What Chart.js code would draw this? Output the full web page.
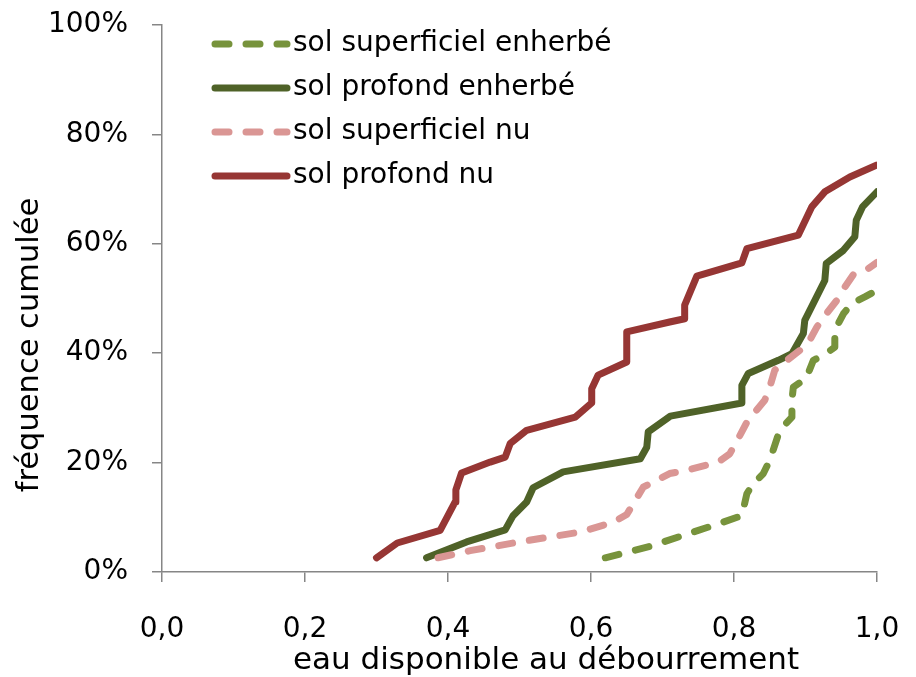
<!DOCTYPE html>
<html><head><meta charset="utf-8">
<script src="https://cdn.jsdelivr.net/npm/chart.js@4"></script>
<style>html,body{margin:0;padding:0;background:#fff}</style>
</head><body>
<canvas id="c" width="916" height="677"></canvas>
<script>
const seriesLabels = ['sol superficiel enherbé', 'sol profond enherbé', 'sol superficiel nu', 'sol profond nu'];

const xSupEnh = [0.620, 0.683, 0.729, 0.771, 0.811, 0.818, 0.825, 0.841, 0.850, 0.864, 0.881, 0.881, 0.883, 0.901, 0.911, 0.925, 0.941, 0.941, 0.953, 0.965, 0.983, 1.000];
const ySupEnh = [2.6, 4.7, 6.7, 8.5, 10.3, 14.3, 15.8, 18.0, 20.4, 25.9, 28.3, 31.4, 33.8, 35.4, 38.7, 39.6, 41.1, 44.2, 47.2, 49.1, 50.3, 51.5];

const xProfEnh = [0.370, 0.426, 0.480, 0.491, 0.510, 0.519, 0.561, 0.669, 0.678, 0.680, 0.711, 0.811, 0.811, 0.820, 0.862, 0.881, 0.897, 0.899, 0.927, 0.929, 0.953, 0.969, 0.971, 0.980, 1.000];
const yProfEnh = [2.6, 5.5, 7.7, 10.3, 12.8, 15.4, 18.3, 20.7, 22.8, 25.6, 28.5, 30.9, 34.1, 36.3, 38.7, 39.9, 43.6, 46.0, 53.3, 56.4, 58.8, 61.3, 64.3, 66.8, 69.5];

const xSupNu = [0.386, 0.431, 0.500, 0.547, 0.585, 0.631, 0.650, 0.673, 0.710, 0.734, 0.778, 0.794, 0.806, 0.818, 0.829, 0.843, 0.850, 0.857, 0.874, 0.892, 0.906, 0.916, 0.929, 0.944, 0.955, 0.967, 0.988, 1.000];
const ySupNu = [2.6, 3.9, 5.5, 6.5, 7.3, 9.1, 10.5, 15.5, 18.0, 18.6, 20.1, 21.6, 24.4, 27.4, 29.2, 31.4, 33.8, 36.9, 38.7, 40.5, 42.4, 44.8, 47.2, 49.7, 52.1, 54.4, 55.5, 56.6];

const xProfNu = [0.300, 0.329, 0.389, 0.410, 0.411, 0.419, 0.459, 0.480, 0.487, 0.510, 0.578, 0.601, 0.601, 0.610, 0.650, 0.650, 0.710, 0.731, 0.731, 0.748, 0.811, 0.818, 0.890, 0.909, 0.927, 0.962, 1.000];
const yProfNu = [2.6, 5.3, 7.6, 12.8, 15.0, 18.1, 20.1, 21.0, 23.5, 25.9, 28.3, 30.9, 33.5, 36.0, 38.4, 43.9, 45.7, 46.3, 48.8, 54.1, 56.5, 59.1, 61.6, 66.8, 69.5, 72.2, 74.4];

const xTickValues = [0, 0.2, 0.4, 0.6, 0.8, 1.0];
const xTickLabels = ['0,0', '0,2', '0,4', '0,6', '0,8', '1,0'];
const yTickValues = [0, 20, 40, 60, 80, 100];
const yTickLabels = ['0%', '20%', '40%', '60%', '80%', '100%'];
const xTitle = 'eau disponible au débourrement';
const yTitle = 'fréquence cumulée';

const FONT = '"DejaVu Sans", "Open Sans", sans-serif';
const AXIS = '#868686';

function pts(xs, ys) { return xs.map((x, i) => ({ x: x, y: ys[i] })); }

const styles = [
  { color: '#77933C', dash: [14, 17], order: 4 },
  { color: '#4F6228', dash: [], order: 3 },
  { color: '#DA9694', dash: [14, 17], order: 2 },
  { color: '#963634', dash: [], order: 1 }
];
const seriesData = [pts(xSupEnh, ySupEnh), pts(xProfEnh, yProfEnh), pts(xSupNu, ySupNu), pts(xProfNu, yProfNu)];

const datasets = seriesLabels.map((lab, i) => ({
  label: lab,
  data: seriesData[i],
  borderColor: styles[i].color,
  backgroundColor: styles[i].color,
  borderWidth: 7,
  borderDash: styles[i].dash,
  borderCapStyle: 'round',
  borderJoinStyle: 'round',
  pointRadius: 0,
  pointHoverRadius: 0,
  fill: false,
  tension: 0,
  order: styles[i].order
}));

const overlay = {
  id: 'overlay',
  afterDraw(chart) {
    const ctx = chart.ctx;
    ctx.save();
    ctx.fillStyle = '#000';
    ctx.textAlign = 'center';
    ctx.textBaseline = 'middle';
    ctx.font = '31px ' + FONT;
    ctx.fillText(xTitle, 546, 661);
    ctx.save();
    ctx.translate(30, 345);
    ctx.rotate(-Math.PI / 2);
    ctx.font = '30.5px ' + FONT;
    ctx.fillText(yTitle, 0, 0);
    ctx.restore();
    // legend
    chart.data.datasets.forEach((ds, i) => {
      const y = 44 + 44 * i;
      ctx.save();
      ctx.strokeStyle = ds.borderColor;
      ctx.lineWidth = ds.borderWidth;
      ctx.lineCap = 'round';
      ctx.setLineDash(ds.borderDash || []);
      ctx.beginPath();
      ctx.moveTo(215, y);
      ctx.lineTo(287, y);
      ctx.stroke();
      ctx.restore();
      ctx.fillStyle = '#000';
      ctx.textAlign = 'left';
      ctx.textBaseline = 'middle';
      ctx.font = '28px ' + FONT;
      ctx.fillText(ds.label, 293, y);
    });
    ctx.restore();
  }
};

new Chart(document.getElementById('c'), {
  type: 'line',
  data: { datasets: datasets },
  options: {
    responsive: false,
    animation: false,
    devicePixelRatio: 1,
    layout: { padding: { left: 0, right: 39, top: 25, bottom: 0 } },
    plugins: { legend: { display: false }, tooltip: { enabled: false } },
    scales: {
      x: {
        type: 'linear', position: 'bottom', min: 0, max: 1,
        afterBuildTicks(s) { s.ticks = xTickValues.map(v => ({ value: v })); },
        afterFit(s) { s.height = 105; s.paddingLeft = 0; s.paddingRight = 0; s.paddingTop = 0; s.paddingBottom = 0; },
        ticks: { callback: (v, i) => xTickLabels[i], font: { family: FONT, size: 28 }, color: '#000', padding: 31, maxRotation: 0, autoSkip: false },
        grid: { drawOnChartArea: false, drawTicks: true, tickLength: 10, color: AXIS, lineWidth: 1.5 },
        border: { display: true, color: AXIS, width: 1.5 }
      },
      y: {
        type: 'linear', position: 'left', min: 0, max: 100,
        afterBuildTicks(s) { s.ticks = yTickValues.map(v => ({ value: v })); },
        afterFit(s) { s.width = 162; s.paddingLeft = 0; s.paddingRight = 0; s.paddingTop = 0; s.paddingBottom = 0; },
        ticks: { callback: (v, i) => yTickLabels[i], font: { family: FONT, size: 28 }, color: '#000', padding: 24, autoSkip: false },
        grid: { drawOnChartArea: false, drawTicks: true, tickLength: 10, color: AXIS, lineWidth: 1.5 },
        border: { display: true, color: AXIS, width: 1.5 }
      }
    }
  },
  plugins: [overlay]
});
</script>
</body></html>
